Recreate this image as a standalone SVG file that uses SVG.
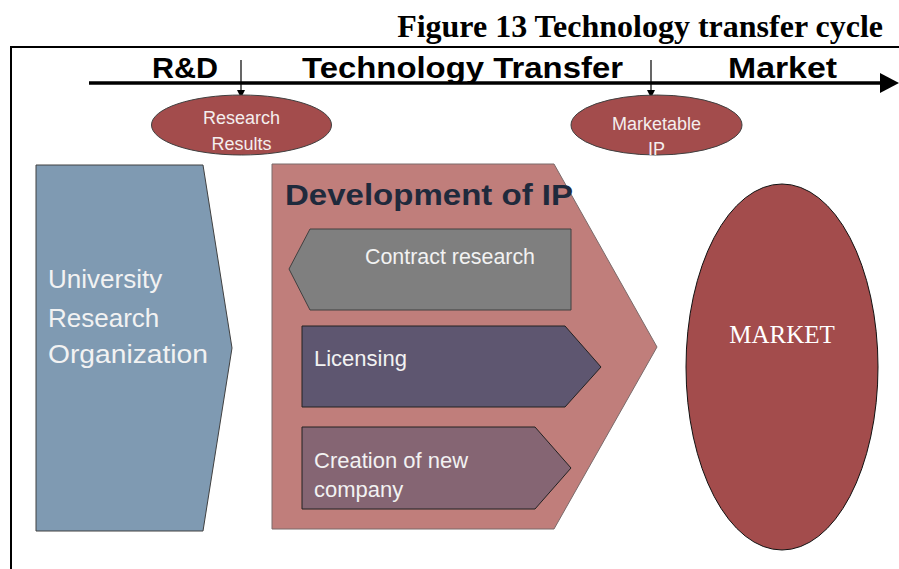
<svg xmlns="http://www.w3.org/2000/svg" width="899" height="569" viewBox="0 0 899 569">
<style>
.title{font-family:"Liberation Sans",serif;font-family:"Liberation Serif",serif;font-weight:bold;font-size:32px;fill:#000}
.phase{font-family:"Liberation Sans",Arial,sans-serif;font-weight:bold;font-size:30px;fill:#000}
.small{font-family:"Liberation Sans",Arial,sans-serif;font-size:18px;fill:#f4eeee;text-anchor:middle}
.lbl{font-family:"Liberation Sans",Arial,sans-serif;font-size:22px;fill:#f2f2f2}
.big{font-family:"Liberation Sans",Arial,sans-serif;font-size:26px;fill:#f2f2f2}
.shape{stroke:#404040;stroke-width:1}
</style>
<defs>
<marker id="ah" markerWidth="8" markerHeight="8" refX="7" refY="4" orient="auto" markerUnits="userSpaceOnUse">
<path d="M0,0 L8,4 L0,8 Z" fill="#000"/>
</marker>
</defs>
<rect width="899" height="569" fill="#fff"/>
<text class="title" x="883" y="37" text-anchor="end">Figure 13 Technology transfer cycle</text>
<g id="frame" fill="none" stroke="#000" stroke-width="2">
<path d="M11,569 L11,47 L899,47"/>
</g>
<g id="timeline">
<text class="phase" x="152" y="78" textLength="66" lengthAdjust="spacingAndGlyphs">R&amp;D</text>
<text class="phase" x="302" y="78" textLength="321" lengthAdjust="spacingAndGlyphs">Technology Transfer</text>
<text class="phase" x="728" y="78" textLength="109" lengthAdjust="spacingAndGlyphs">Market</text>
</g>
<g id="connectors">
<line x1="89" y1="83" x2="882" y2="83" stroke="#000" stroke-width="3.5"/>
<path d="M880,73 L899,83 L880,93 Z" fill="#000"/>
<line x1="241" y1="60" x2="241" y2="97" stroke="#000" stroke-width="1.2" marker-end="url(#ah)"/>
<line x1="651" y1="60" x2="651" y2="97" stroke="#000" stroke-width="1.2" marker-end="url(#ah)"/>
</g>
<g id="research-results">
<ellipse cx="241.5" cy="125" rx="90" ry="30" fill="#a34c4c" class="shape"/>
<text class="small" x="241.5" y="124">Research</text>
<text class="small" x="241.5" y="150">Results</text>
</g>
<g id="marketable-ip">
<ellipse cx="656.5" cy="125" rx="85.5" ry="30" fill="#a34c4c" class="shape"/>
<text class="small" x="656.5" y="130">Marketable</text>
<text class="small" x="656.5" y="155">IP</text>
</g>
<g id="university">
<path d="M36,165 L203,165 L232,348 L203,531 L36,531 Z" fill="#7f9ab2" class="shape"/>
<text class="big" x="48" y="288">University</text>
<text class="big" x="48" y="327">Research</text>
<text class="big" x="48" y="363" textLength="160" lengthAdjust="spacingAndGlyphs">Organization</text>
</g>
<g id="development">
<path d="M272,164 L554,164 L657,347 L554,529 L272,529 Z" fill="#c07e7b" stroke="#7a6a6a" stroke-width="1"/>
<text x="285" y="205" font-family="Liberation Sans,Arial,sans-serif" font-weight="bold" font-size="30" fill="#1f2a3c" textLength="288" lengthAdjust="spacingAndGlyphs">Development of IP</text>
</g>
<g id="contract-research">
<path d="M289,269 L310,229 L571,229 L571,310 L310,310 Z" fill="#7f7f7f" class="shape"/>
<text class="lbl" x="365" y="264" font-size="21" textLength="170" lengthAdjust="spacingAndGlyphs">Contract research</text>
</g>
<g id="licensing">
<path d="M302,326 L565,326 L601,367 L565,407 L302,407 Z" fill="#5e5670" stroke="#222" stroke-width="1"/>
<text class="lbl" x="314" y="366">Licensing</text>
</g>
<g id="new-company">
<path d="M302,427 L535,427 L571,468 L535,509 L302,509 Z" fill="#856573" stroke="#222" stroke-width="1"/>
<text class="lbl" x="314" y="468">Creation of new</text>
<text class="lbl" x="314" y="497">company</text>
</g>
<g id="market">
<ellipse cx="782" cy="367" rx="96" ry="183" fill="#a34c4c" stroke="#111" stroke-width="1"/>
<text x="782" y="343" text-anchor="middle" font-family="Liberation Serif,serif" font-size="25" fill="#fff">MARKET</text>
</g>
</svg>
